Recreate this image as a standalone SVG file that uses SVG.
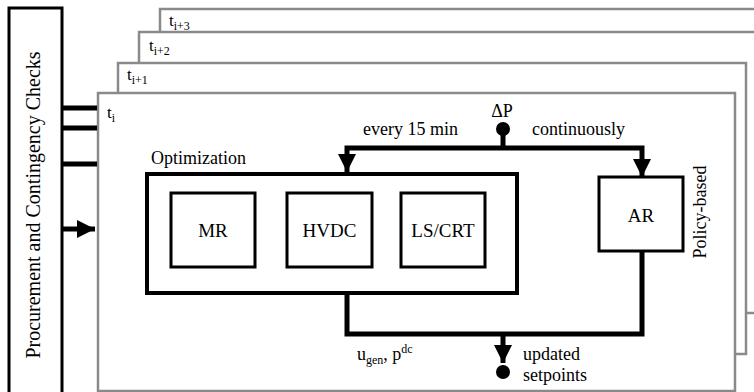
<svg xmlns="http://www.w3.org/2000/svg" width="754" height="392" viewBox="0 0 754 392">
  <style>
    text { font-family: "Liberation Serif", "DejaVu Serif", serif; fill: #000; }
    .frame { fill: #fff; stroke: #8a8a8a; stroke-width: 2.5; }
    .box { fill: #fff; stroke: #000; stroke-width: 3; }
    .outer { fill: #fff; stroke: #000; stroke-width: 4; }
    .wire { fill: none; stroke: #000; stroke-width: 5; }
    .lbl { font-size: 18px; }
    .big { font-size: 19px; }
    .sub { font-size: 12px; }
  </style>
  <defs>
    <marker id="head" markerUnits="userSpaceOnUse" markerWidth="20" markerHeight="20" viewBox="0 0 20 20" refX="18" refY="10" orient="auto">
      <path d="M0,1 L18,10 L0,19 Z" fill="#000"/>
    </marker>
  </defs>

  <rect width="754" height="392" fill="#fff"/>

  <!-- stacked time-step frames, back to front -->
  <g id="frame-t3">
    <rect class="frame" x="160" y="9" width="620" height="260"/>
    <text x="169" y="26" font-size="17" font-family="Liberation Serif, serif">t<tspan class="sub" dy="4">i+3</tspan></text>
  </g>
  <g id="frame-t2">
    <rect class="frame" x="139" y="32" width="630" height="281"/>
    <text x="149" y="51" font-size="17" font-family="Liberation Serif, serif">t<tspan class="sub" dy="4">i+2</tspan></text>
  </g>
  <g id="frame-t1">
    <rect class="frame" x="118" y="63" width="628" height="291"/>
    <text x="127" y="80" font-size="17" font-family="Liberation Serif, serif">t<tspan class="sub" dy="4">i+1</tspan></text>
  </g>
  <g id="frame-t0">
    <rect class="frame" x="98" y="93" width="637" height="298"/>
    <text x="107" y="118" font-size="17" font-family="Liberation Serif, serif">t<tspan class="sub" dy="4">i</tspan></text>
  </g>

  <!-- procurement side bar -->
  <g id="procurement">
    <rect x="9" y="8" width="53" height="390" fill="#fff" stroke="#000" stroke-width="3"/>
    <text x="0" y="0" font-size="20" font-family="Liberation Serif, serif" text-anchor="middle" transform="translate(40,205) rotate(-90)">Procurement and Contingency Checks</text>
  </g>

  <g id="optimization">
    <text class="lbl" x="151" y="164" font-family="Liberation Serif, serif">Optimization</text>
    <rect class="outer" x="147" y="174" width="370" height="119"/>
  </g>
  <g id="mr">
    <rect class="box" x="171" y="193" width="84" height="74"/>
    <text class="big" x="213" y="237" text-anchor="middle" font-family="Liberation Serif, serif">MR</text>
  </g>
  <g id="hvdc">
    <rect class="box" x="287" y="193" width="85" height="74"/>
    <text class="big" x="329.5" y="237" text-anchor="middle" font-family="Liberation Serif, serif">HVDC</text>
  </g>
  <g id="lscrt">
    <rect class="box" x="401" y="193" width="84" height="74"/>
    <text class="big" x="443" y="237" text-anchor="middle" font-family="Liberation Serif, serif">LS/CRT</text>
  </g>
  <g id="ar">
    <rect class="box" x="599" y="177" width="84" height="74"/>
    <text class="big" x="641" y="222" text-anchor="middle" font-family="Liberation Serif, serif">AR</text>
    <text class="lbl" x="0" y="0" text-anchor="middle" font-family="Liberation Serif, serif" transform="translate(706,212) rotate(-90)">Policy-based</text>
  </g>

  <g id="connectors">
    <!-- links from the side bar into the frames -->
    <line class="wire" x1="62" y1="108" x2="97" y2="108"/>
    <line class="wire" x1="62" y1="128" x2="97" y2="128"/>
    <line class="wire" x1="62" y1="164" x2="97" y2="164"/>
    <line class="wire" x1="62" y1="229" x2="95" y2="229" marker-end="url(#head)"/>

    <!-- ΔP split -->
    <circle cx="503" cy="129" r="7" fill="#000"/>
    <line class="wire" x1="503" y1="129" x2="503" y2="148"/>
    <path class="wire" d="M503,148 H347 V172" marker-end="url(#head)"/>
    <path class="wire" d="M503,148 H642 V177" marker-end="url(#head)"/>

    <!-- merged output -->
    <path class="wire" d="M347,293 V334 H642 V251"/>
    <line class="wire" x1="503" y1="334" x2="503" y2="363" marker-end="url(#head)"/>
    <circle cx="503" cy="372" r="7" fill="#000"/>
  </g>

  <g id="labels" font-family="Liberation Serif, serif">
    <text class="lbl" x="502" y="117" text-anchor="middle" font-family="Liberation Serif, serif">ΔP</text>
    <text class="lbl" x="363" y="135" font-family="Liberation Serif, serif">every 15 min</text>
    <text class="lbl" x="532" y="135" font-family="Liberation Serif, serif">continuously</text>
    <text class="lbl" x="357" y="360" font-family="Liberation Serif, serif">u<tspan class="sub" dy="4">gen</tspan><tspan dy="-4">, p</tspan><tspan class="sub" dy="-7">dc</tspan></text>
    <text class="lbl" x="523" y="360" font-family="Liberation Serif, serif">updated</text>
    <text class="lbl" x="523" y="381" font-family="Liberation Serif, serif">setpoints</text>
  </g>
</svg>
